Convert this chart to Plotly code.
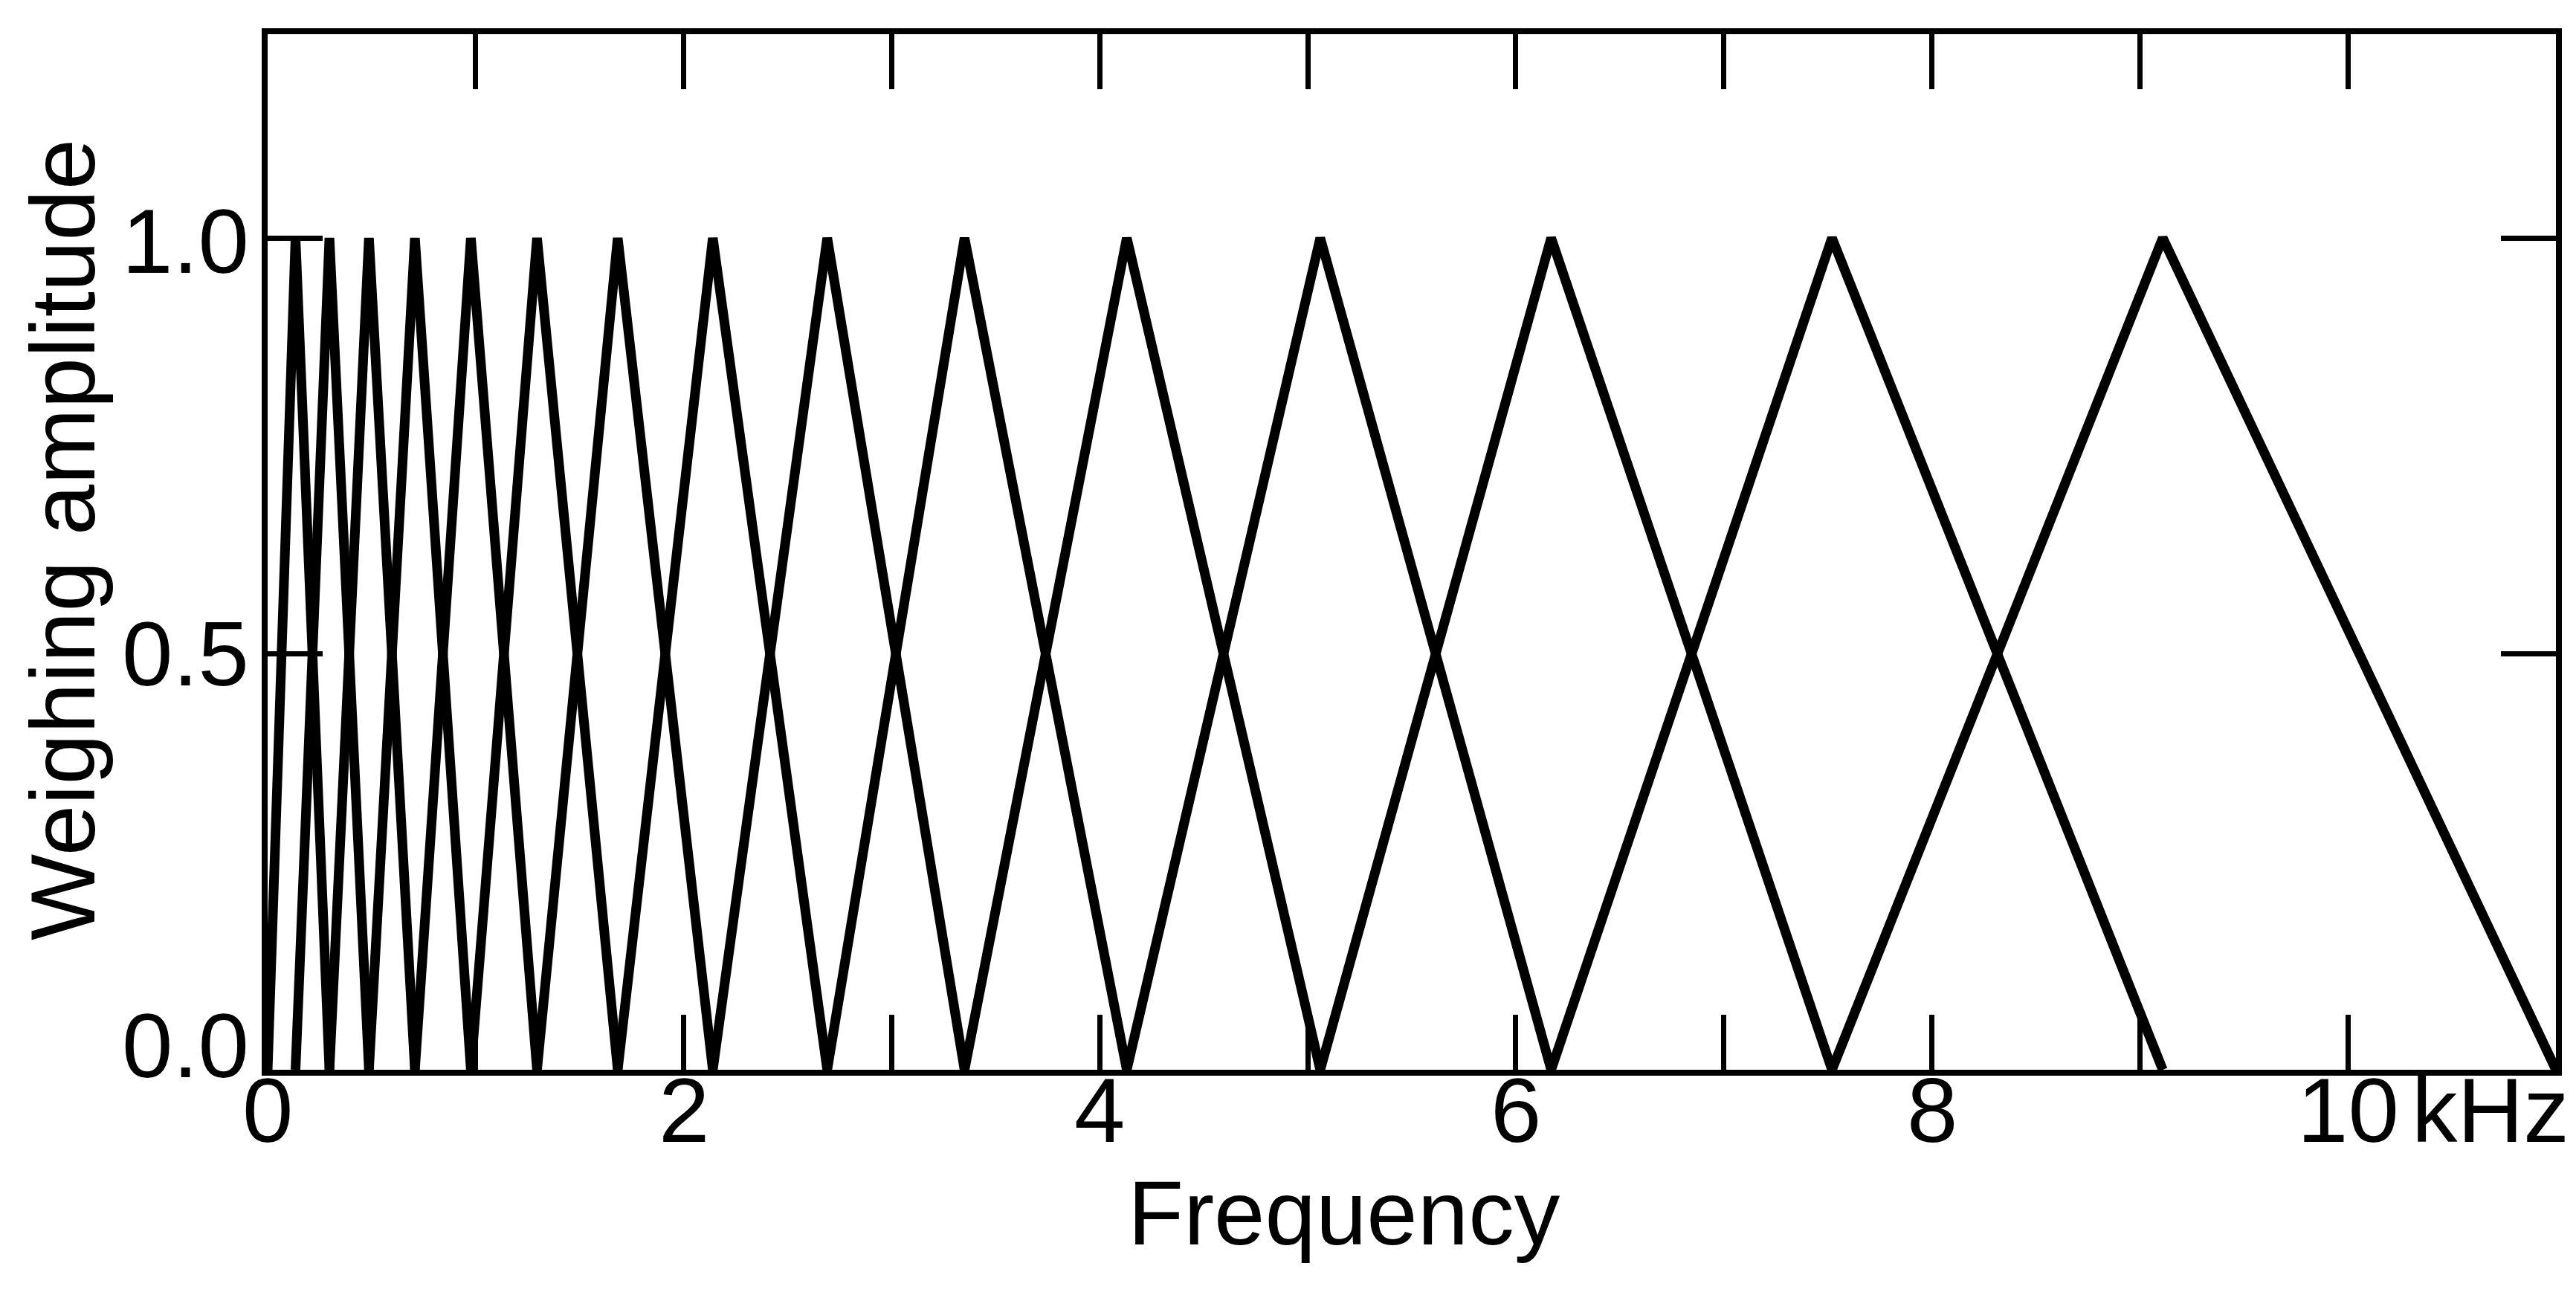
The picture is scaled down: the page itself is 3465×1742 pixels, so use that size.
import plotly.graph_objects as go

# Band edges (kHz): each triangle rises from edge[k-1], peaks at edge[k], falls to edge[k+1]
edges_khz = [0.0, 0.134, 0.297, 0.487, 0.708, 0.977, 1.295, 1.683, 2.14, 2.69,
             3.35, 4.13, 5.06, 6.17, 7.52, 9.11, 11.0]
peak_amp = [1.0] * 15
x_tick_vals = [0, 2, 4, 6, 8, 10]
x_tick_text = ["0", "2", "4", "6", "8", "10"]
y_tick_vals = [0.0, 0.5, 1.0]
y_tick_text = ["0.0", "0.5", "1.0"]

# presentation settings
W, H = 3465, 1742
L, R, T, B = 352, 35, 38, 311
PW, PH = W - L - R, H - T - B
FONT = "Liberation Sans, Arial, sans-serif"
FS = 123
y_label_yshift = [33, 0, -4]
x_label_y = 0.0115

fig = go.Figure()
for k in range(1, len(edges_khz) - 1):
    fig.add_trace(go.Scatter(
        x=[edges_khz[k - 1], edges_khz[k], edges_khz[k + 1]],
        y=[0.0, peak_amp[k - 1], 0.0],
        mode="lines",
        line=dict(color="black", width=13),
        showlegend=False,
        hoverinfo="skip",
    ))

axis_common = dict(
    showgrid=False, zeroline=False, showline=True, linecolor="black", linewidth=8,
    mirror="allticks", ticks="inside", ticklen=74, tickwidth=7, tickcolor="black",
    showticklabels=False,
)

fig.update_xaxes(range=[0, 11.0], tickvals=x_tick_vals, ticktext=x_tick_text,
                 minor=dict(dtick=1, tick0=0, ticks="inside", ticklen=74, tickwidth=7,
                            tickcolor="black", showgrid=False),
                 **axis_common)
fig.update_yaxes(range=[0, 1.245], tickvals=y_tick_vals, ticktext=y_tick_text,
                 **axis_common)

for v, t, ys in zip(y_tick_vals, y_tick_text, y_label_yshift):
    fig.add_annotation(text=t, xref="paper", yref="y", x=(329 - L) / PW, y=v,
                       xanchor="right", yanchor="middle", yshift=ys, showarrow=False,
                       font=dict(family=FONT, size=FS, color="black"))

for v, t in zip(x_tick_vals, x_tick_text):
    fig.add_annotation(text=t, xref="x", yref="paper", x=v, y=x_label_y,
                       xanchor="center", yanchor="top", showarrow=False,
                       font=dict(family=FONT, size=FS, color="black"))

fig.add_annotation(text="kHz", xref="x", yref="paper", x=10, y=x_label_y,
                   xanchor="left", yanchor="top", xshift=84, showarrow=False,
                   font=dict(family=FONT, size=FS, color="black"))
fig.add_annotation(text="Frequency", xref="paper", yref="paper",
                   x=(1800 - L) / PW, y=(H - B - 1623) / PH,
                   xanchor="center", yanchor="middle", showarrow=False,
                   font=dict(family=FONT, size=FS, color="black"))
fig.add_annotation(text="Weighing amplitude", xref="paper", yref="paper",
                   x=(76 - L) / PW, y=(H - B - 718) / PH,
                   xanchor="center", yanchor="middle", textangle=-90, showarrow=False,
                   font=dict(family=FONT, size=FS, color="black"))

fig.update_layout(width=W, height=H, margin=dict(l=L, r=R, t=T, b=B),
                  paper_bgcolor="white", plot_bgcolor="white")
fig.write_html("out.html")
